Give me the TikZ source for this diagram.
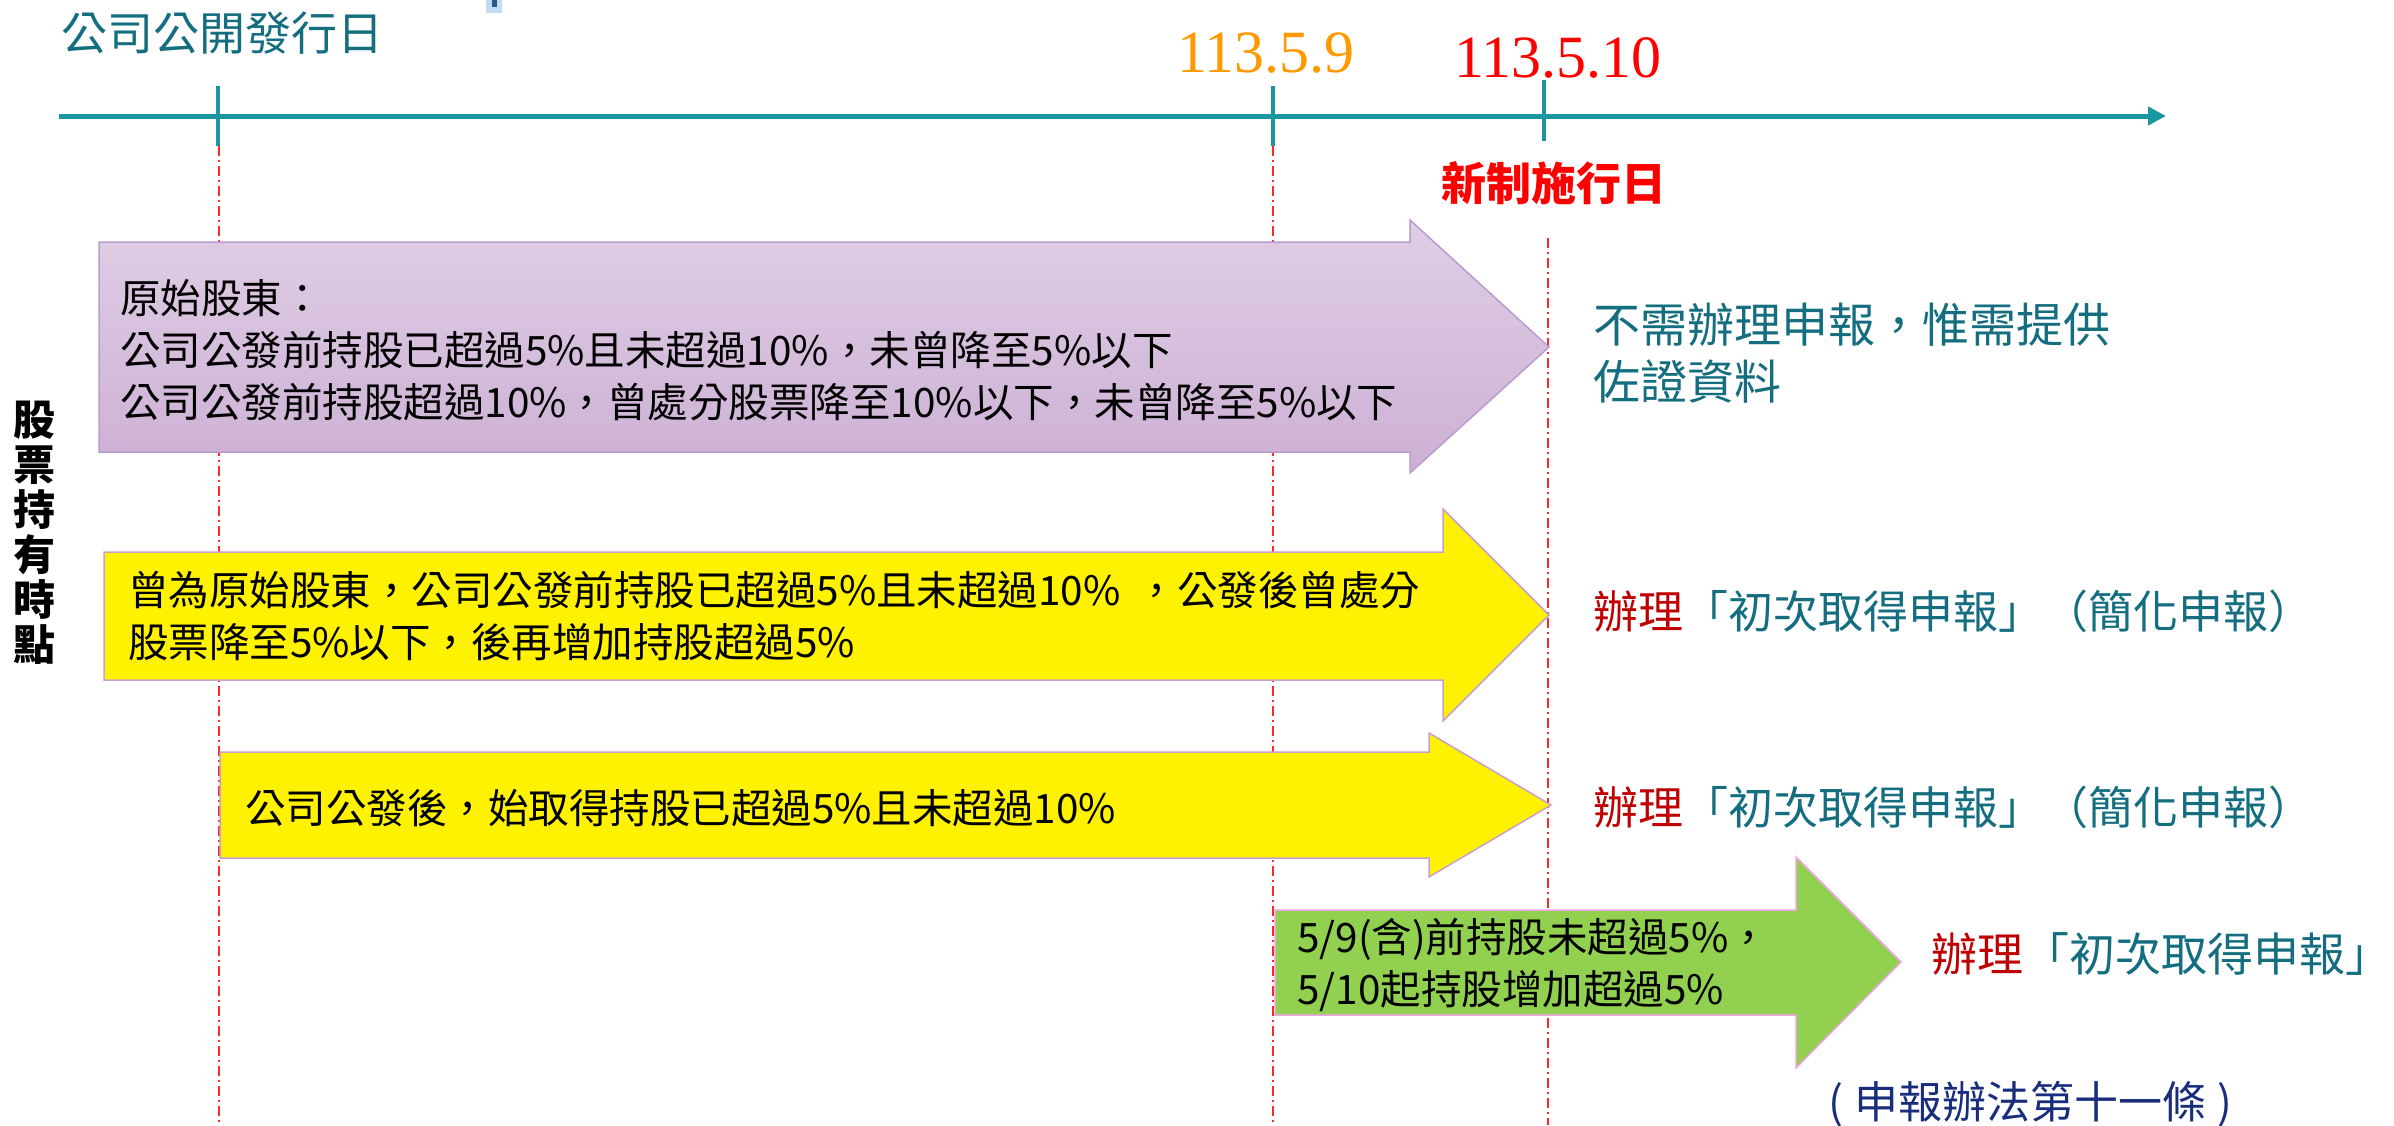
\documentclass[tikz,border=0pt]{standalone}
\usepackage{fontspec}
\setmainfont{Noto Sans CJK TC}
\newfontfamily\datef{Liberation Serif}
\usetikzlibrary{arrows.meta}
\definecolor{tealtxt}{RGB}{20,110,128}
\definecolor{axisteal}{RGB}{25,150,160}
\definecolor{guidered}{RGB}{255,40,40}
\definecolor{reddark}{RGB}{192,0,0}
\definecolor{datered}{RGB}{255,0,0}
\definecolor{dateorange}{RGB}{255,153,0}
\definecolor{purtop}{RGB}{224,206,229}
\definecolor{purbot}{RGB}{204,176,212}
\definecolor{purborder}{RGB}{185,155,205}
\definecolor{yelborder}{RGB}{200,160,205}
\definecolor{greenfill}{RGB}{146,208,80}
\definecolor{greenborder}{RGB}{238,165,228}
\definecolor{navytxt}{RGB}{25,45,125}
\definecolor{markblue}{RGB}{40,90,140}
\definecolor{markglow}{RGB}{170,205,240}
\begin{document}
\begin{tikzpicture}[x=1pt,y=-1pt,
  guide/.style={draw=guidered, line width=1.6pt, dash pattern=on 10pt off 4pt on 2pt off 4pt},
  axisline/.style={draw=axisteal, line width=5pt},
  tickline/.style={draw=axisteal, line width=4pt},
  purarrow/.style={draw=purborder, line width=1.5pt, top color=purtop, bottom color=purbot},
  yelarrow/.style={draw=yelborder, line width=1.5pt, fill=yellow},
  grnarrow/.style={draw=greenborder, line width=1.5pt, fill=greenfill},
  bodytext/.style={font=\fontsize{40.5}{52}\selectfont, anchor=west, align=left, inner sep=0pt, text=black},
  resulttext/.style={font=\fontsize{45}{57}\selectfont, anchor=west, align=left, inner sep=0pt, text=tealtxt},
  datelabel/.style={font=\datef\fontsize{60}{60}\selectfont, anchor=base west, inner sep=0pt}
]
\useasboundingbox (0,0) rectangle (2394,1125);
\fill[white] (0,0) rectangle (2394,1125);

% small blue mark at top
\fill[markglow, opacity=0.7] (486,0) rectangle (502,13);
\fill[markblue] (492,0) rectangle (497,7);

% tick / guide coordinates
\coordinate (g0top) at (219,146);  \coordinate (g0bot) at (219,1125);
\coordinate (g1top) at (1273,146); \coordinate (g1bot) at (1273,1125);
\coordinate (g2top) at (1548,238); \coordinate (g2bot) at (1548,1125);

% dash-dot guides
\draw[guide] (g0top) -- (g0bot);
\draw[guide] (g1top) -- (g1bot);
\draw[guide] (g2top) -- (g2bot);

% arrows
\path[purarrow] (99,242) -- (1410,242) -- (1410,220) -- (1549,347) -- (1410,473) -- (1410,452) -- (99,452) -- cycle;
\path[yelarrow] (104,552) -- (1443,552) -- (1443,509) -- (1549,615) -- (1443,721) -- (1443,680) -- (104,680) -- cycle;
\path[yelarrow] (220,752) -- (1429,752) -- (1429,733) -- (1551,805) -- (1429,877) -- (1429,858) -- (220,858) -- cycle;
\path[grnarrow] (1275,910) -- (1796,910) -- (1796,857) -- (1901,962) -- (1796,1068) -- (1796,1015) -- (1275,1015) -- cycle;

% arrow texts
\node[bodytext] (a1) at (120,350) {原始股東：\\公司公發前持股已超過5\%且未超過10\%，未曾降至5\%以下\\公司公發前持股超過10\%，曾處分股票降至10\%以下，未曾降至5\%以下};
\node[bodytext] (a2) at (128,616) {曾為原始股東，公司公發前持股已超過5\%且未超過10\%\hspace{0.4em}，公發後曾處分\\股票降至5\%以下，後再增加持股超過5\%};
\node[bodytext] (a3) at (245,808) {公司公發後，始取得持股已超過5\%且未超過10\%};
\node[bodytext] (a4) at (1297,965) {5/9(含)前持股未超過5\%，\\5/10起持股增加超過5\%};

% result texts
\node[resulttext, font=\fontsize{47}{57}\selectfont] (r1) at (1593,353) {不需辦理申報，惟需提供\\佐證資料};
\node[resulttext] (r2) at (1593,611) {\textcolor{reddark}{辦理}「初次取得申報」（簡化申報）};
\node[resulttext] (r3) at (1593,807) {\textcolor{reddark}{辦理}「初次取得申報」（簡化申報）};
\node[resulttext, font=\fontsize{46}{57}\selectfont] (r4) at (1931,954) {\textcolor{reddark}{辦理}「初次取得申報」};
\node[anchor=west, inner sep=0pt, text=navytxt, font=\fontsize{44}{50}\selectfont] (note) at (1828,1104) {(\hspace{0.25em}申報辦法第十一條\hspace{0.25em})};

% vertical label
\node[align=center, inner sep=0pt, font=\bfseries\fontsize{42}{45}\selectfont] (vlab) at (34,533) {股\\票\\持\\有\\時\\點};

% timeline
\coordinate (tlstart) at (59,116);
\coordinate (tlend) at (2166,116);
\draw[axisline, -{Triangle[length=18pt,width=18pt]}] (tlstart) -- (tlend);
\coordinate (t0a) at (218,86);  \coordinate (t0b) at (218,146);
\coordinate (t1a) at (1273,86); \coordinate (t1b) at (1273,146);
\coordinate (t2a) at (1544,80); \coordinate (t2b) at (1544,141);
\draw[tickline] (t0a) -- (t0b);
\draw[tickline] (t1a) -- (t1b);
\draw[tickline] (t2a) -- (t2b);

% timeline labels
\node[anchor=west, inner sep=0pt, text=tealtxt, font=\fontsize{46}{50}\selectfont] (lab0) at (61,33) {公司公開發行日};
\node[datelabel, text=dateorange] (lab1) at (1177,72) {113.5.9};
\node[datelabel, text=datered] (lab2) at (1454,77) {113.5.10};
\node[inner sep=0pt, text=datered, font=\bfseries\fontsize{45}{50}\selectfont] (lab3) at (1554,183) {新制施行日};
\end{tikzpicture}
\end{document}
